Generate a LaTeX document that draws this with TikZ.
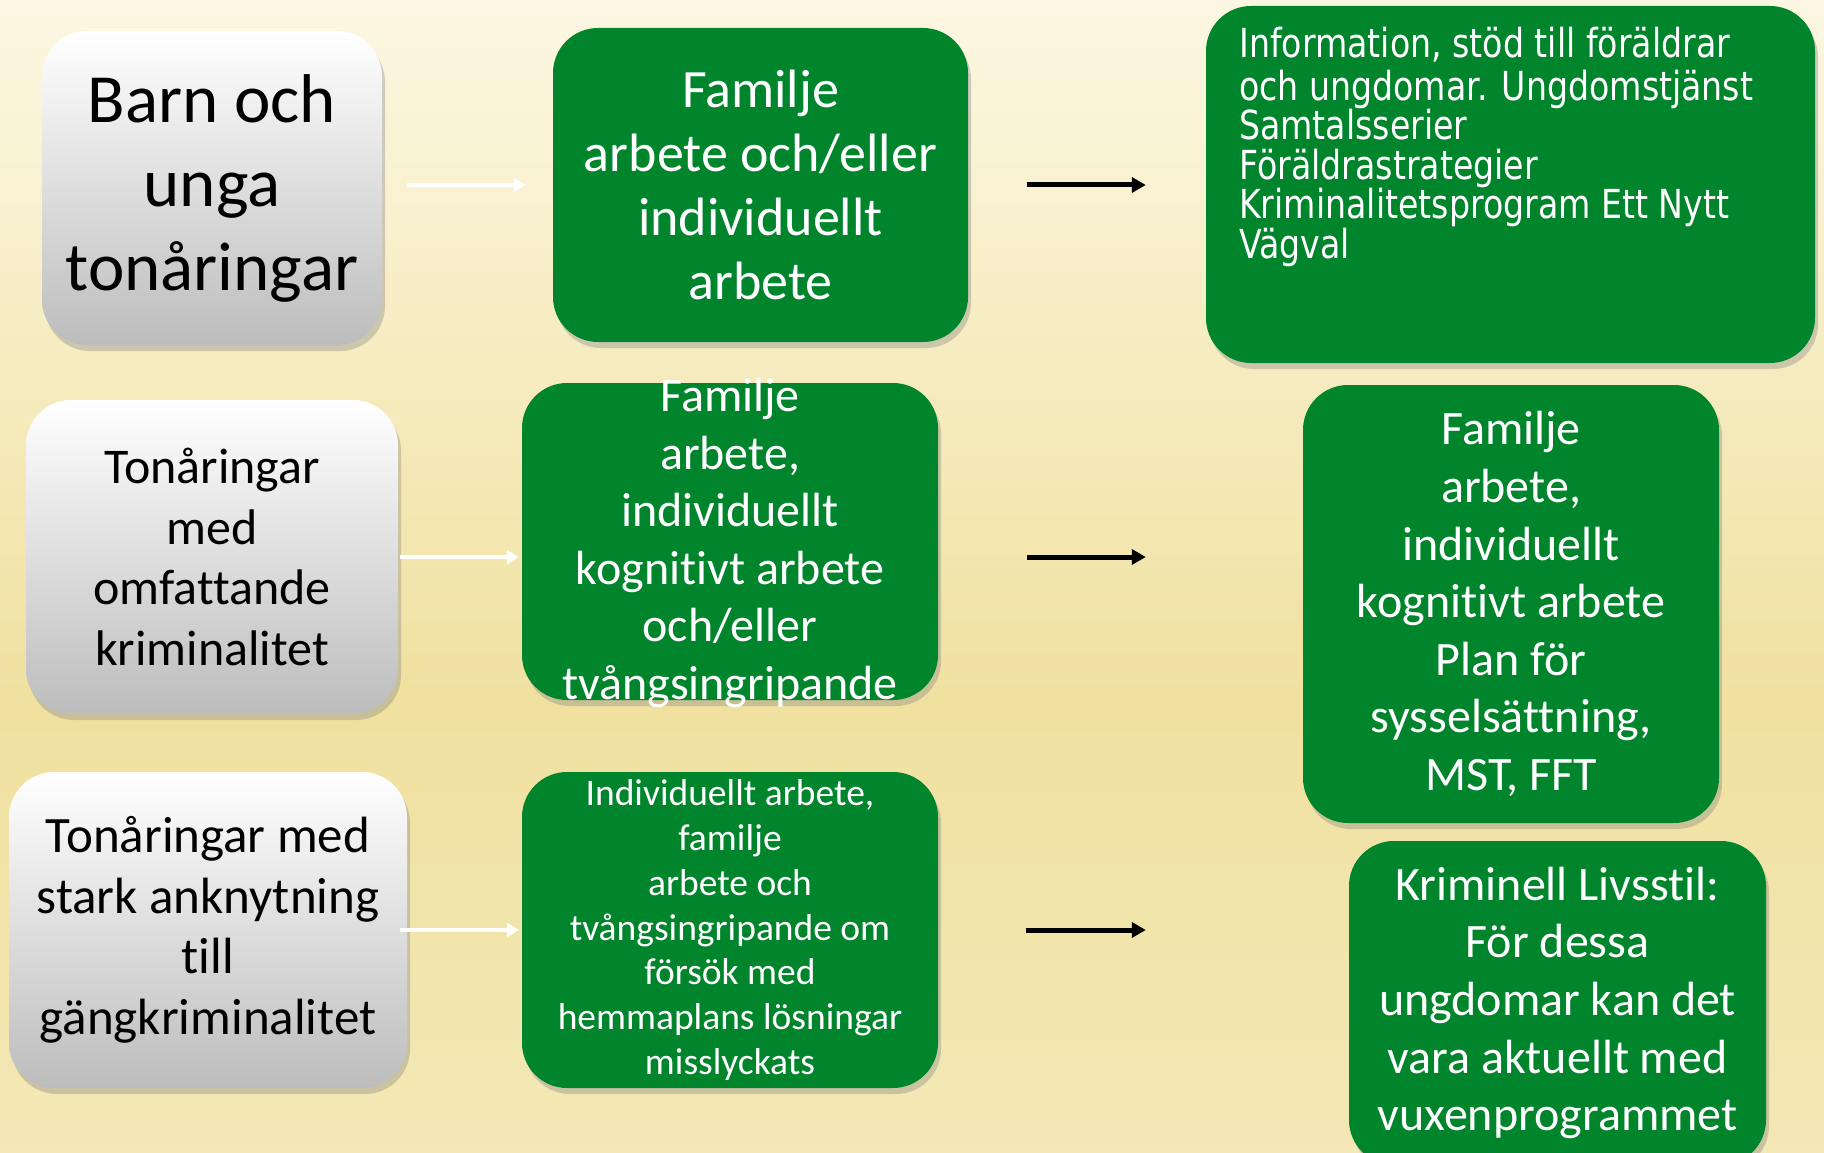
\documentclass[tikz,border=0pt]{standalone}
\usepackage{fontspec}
\setmainfont{Carlito}[Ligatures=NoCommon]
\newfontfamily\narrowfont[FakeStretch=0.83]{DejaVu Sans}
\usetikzlibrary{arrows.meta,shadows}
\definecolor{boxgreen}{RGB}{0,133,44}
\definecolor{bgtop}{RGB}{252,247,226}
\definecolor{bgmid}{RGB}{240,225,160}
\definecolor{bgbot}{RGB}{243,232,182}
\begin{document}
\begin{tikzpicture}[x=1pt,y=-1pt,
  greybox/.style={rounded corners=45pt, top color=white, bottom color=black!26, drop shadow={shadow xshift=3pt,shadow yshift=-6pt,opacity=0.35}, align=center, inner sep=0pt},
  greenbox/.style={rounded corners=45pt, fill=boxgreen, drop shadow={shadow xshift=3pt,shadow yshift=-6pt,opacity=0.35}, align=center, inner sep=0pt, text=white},
  whitearrow/.style={white, line width=4pt, -{Triangle[length=12pt,width=14pt]}},
  blackarrow/.style={black, line width=5pt, -{Triangle[length=14pt,width=15pt]}}]
\useasboundingbox (0,0) rectangle (1824,1153);
\shade[top color=bgtop, bottom color=bgmid] (0,0) rectangle (1824,700);
\shade[top color=bgmid, bottom color=bgbot] (0,700) rectangle (1824,1153);
% left column
\node[greybox, minimum width=340pt, minimum height=314pt, font=\fontsize{69}{84}\selectfont] (lid1) at (212,188) {Barn och\\unga\\tonåringar};
\node[greybox, minimum width=372pt, minimum height=314pt, font=\fontsize{50}{60.5}\selectfont] (lid2) at (212,557) {Tonåringar\\med\\omfattande\\kriminalitet};
\node[greybox, minimum width=398pt, minimum height=316pt, font=\fontsize{51}{60.5}\selectfont] (lid3) at (208,930) {Tonåringar med\\stark anknytning\\till\\gängkriminalitet};
% middle column
\node[greenbox, minimum width=415pt, minimum height=314pt, font=\fontsize{54}{64}\selectfont] (mid1) at (760.5,185) {Familje\\arbete och/eller\\individuellt\\arbete};
\node[greenbox, minimum width=416pt, minimum height=317pt] (mid2) at (730,541.5) {};
\node[text=white, align=center, inner sep=0pt, font=\fontsize{48}{57.6}\selectfont] (mid2txt) at (730,543) {Familje\\arbete,\\individuellt\\kognitivt arbete\\och/eller\\tvångsingripande};
\node[greenbox, minimum width=416pt, minimum height=316pt, font=\fontsize{37.5}{44.8}\selectfont] (mid3) at (730,930) {Individuellt arbete,\\familje\\arbete och\\tvångsingripande om\\försök med\\hemmaplans lösningar\\misslyckats};
% right column
\node[greenbox, minimum width=609pt, minimum height=357pt] (rid1) at (1510.5,184.5) {};
\node[text=white, align=left, anchor=north west, inner sep=0pt, font=\narrowfont\fontsize{40}{39.5}\selectfont] (rid1txt) at (1239,27) {Information, stöd till föräldrar\\[3pt]och ungdomar. Ungdomstjänst\\Samtalsserier\\Föräldrastrategier\\Kriminalitetsprogram Ett Nytt\\Vägval};
\node[greenbox, minimum width=416pt, minimum height=438pt, font=\fontsize{48}{57.6}\selectfont] (rid2) at (1511,604) {Familje\\arbete,\\individuellt\\kognitivt arbete\\Plan för\\sysselsättning,\\MST, FFT};
\node[greenbox, minimum width=417pt, minimum height=324pt, font=\fontsize{48}{57.6}\selectfont] (rid3) at (1557.5,1003) {Kriminell Livsstil:\\För dessa\\ungdomar kan det\\vara aktuellt med\\vuxenprogrammet};
% arrows
\draw[whitearrow, shorten <=25pt, shorten >=27pt] (lid1.east |- mid1) -- (mid1);
\draw[whitearrow, shorten <=2pt, shorten >=3pt] (lid2.east) -- (lid2.east -| mid2.west);
\draw[whitearrow, shorten <=-7pt, shorten >=3pt] (lid3) -- (mid3);
\draw[blackarrow, shorten <=59pt, shorten >=60pt] (mid1.east) -- (mid1.east -| rid1.west);
\draw[blackarrow, shorten <=89pt, shorten >=157pt] (lid2.east -| mid2.east) -- (lid2.east -| rid2.west);
\draw[blackarrow, shorten <=88pt, shorten >=203pt] (mid3) -- (mid3 -| rid3.west);
\end{tikzpicture}
\end{document}
